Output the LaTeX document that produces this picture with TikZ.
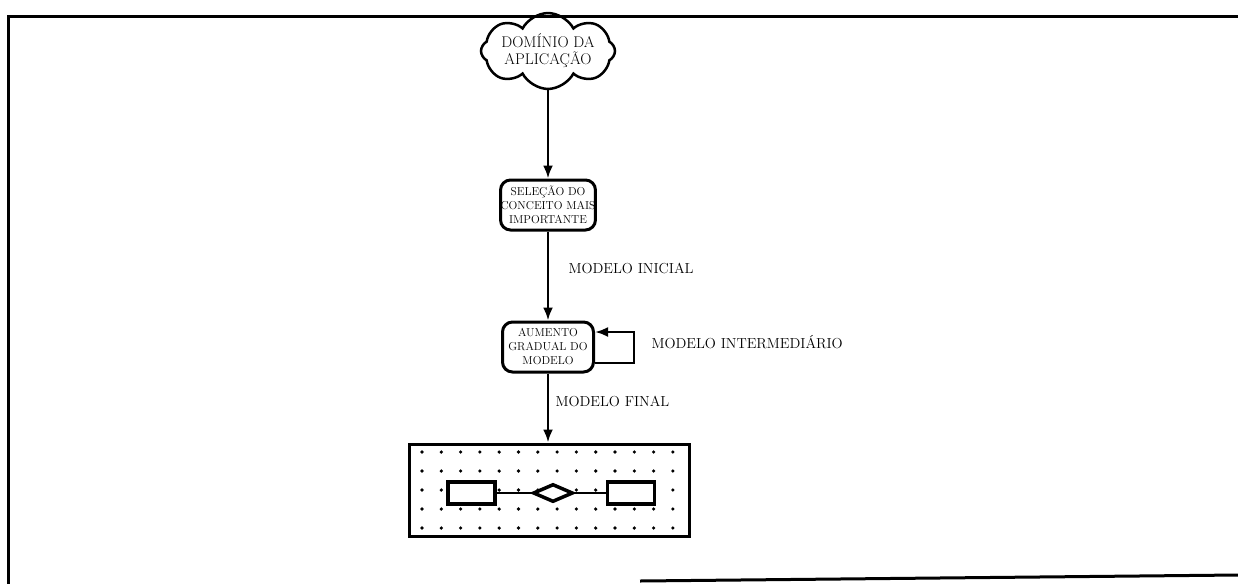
\documentclass[tikz,border=0pt]{standalone}
\usepackage{tikz}
\usetikzlibrary{arrows.meta, positioning, shapes.geometric, shapes.symbols}

\begin{document}
\begin{tikzpicture}[x=1pt, y=-1pt,
    caixa/.style={draw, line width=3pt, rounded corners=10pt, minimum width=91pt,
      minimum height=50pt, align=center, inner sep=0pt, font=\fontsize{11.5}{14}\selectfont},
    seta/.style={-{Latex[length=13pt,width=10pt]}, line width=2.5pt},
    rotulo/.style={anchor=west, font=\fontsize{14.5}{16}\selectfont},
    traco/.style={draw, fill=white, line width=3.5pt, inner sep=0pt}]
  \useasboundingbox (0,0) rectangle (1238,584);

  % Moldura
  \draw[line width=3pt] (1238,16) -- (8,16) -- (8,584);
  \draw[line width=3pt] (640,581) -- (1238,575);

  % Dominio e etapas
  \node[cloud, draw, line width=2.5pt, cloud puffs=8, cloud puff arc=125, aspect=2,
    minimum width=134pt, minimum height=72pt, inner sep=-8pt, align=center,
    font=\fontsize{15.5}{17}\selectfont] (dominio) at (548,51) {DOMÍNIO DA\\APLICAÇÃO};
  \node[caixa] (selecao) at (548,205) {SELEÇÃO DO\\CONCEITO MAIS\\IMPORTANTE};
  \node[caixa] (aumento) at (548,347) {AUMENTO\\GRADUAL DO\\MODELO};

  \draw[seta] (dominio.south) -- (selecao.north);
  \draw[seta] (selecao) -- (aumento);
  \draw[seta] ([yshift=-16pt]aumento.east) -- ++(39,0) |- ([yshift=15pt]aumento.east);

  \node[rotulo] (inicial) at (565,268) {MODELO INICIAL};
  \node[rotulo] (intermed) at (648,342) {MODELO INTERMEDIÁRIO};
  \node[rotulo] (final) at (552,401) {MODELO FINAL};

  % Modelo final
  \node[draw, line width=3pt, minimum width=280pt, minimum height=92pt] (painel) at (549,490) {};
  \draw[seta] (aumento.south) -- (aumento.south |- painel.north);
  \foreach \i in {0,...,13}
    \foreach \j in {0,...,4}
      \fill (422+19.3*\i, 452+19*\j) circle (1.8pt);
  \node[traco, minimum width=47pt, minimum height=22pt] (ent1) at (471.5,493) {};
  \node[traco, minimum width=47pt, minimum height=22pt] (ent2) at (631,493) {};
  \node[traco, diamond, minimum width=40pt, minimum height=18pt] (rel) at (553,493) {};
  \draw[line width=2pt] (ent1) -- (rel) -- (ent2);
\end{tikzpicture}
\end{document}
